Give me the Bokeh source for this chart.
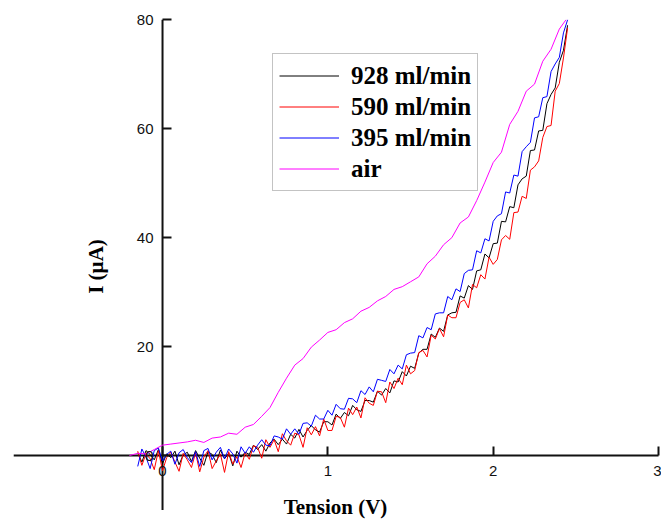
import math
from bokeh.plotting import figure
from bokeh.models import Legend, LegendItem, Label, FixedTicker
from bokeh.embed import file_html
from bokeh.resources import INLINE

# Shared voltage sweep for the three flow-rate series (V)
V = [-0.15, -0.125, -0.1, -0.075, -0.05, -0.025, 0.0, 0.025, 0.05, 0.075,
     0.1, 0.125, 0.15, 0.175, 0.2, 0.225, 0.25, 0.275, 0.3, 0.325,
     0.35, 0.375, 0.4, 0.425, 0.45, 0.475, 0.5, 0.525, 0.55, 0.575,
     0.6, 0.625, 0.65, 0.675, 0.7, 0.725, 0.75, 0.775, 0.8, 0.825,
     0.85, 0.875, 0.9, 0.925, 0.95, 0.975, 1.0, 1.025, 1.05, 1.075,
     1.1, 1.125, 1.15, 1.175, 1.2, 1.225, 1.25, 1.275, 1.3, 1.325,
     1.35, 1.375, 1.4, 1.425, 1.45, 1.475, 1.5, 1.525, 1.55, 1.575,
     1.6, 1.625, 1.65, 1.675, 1.7, 1.725, 1.75, 1.775, 1.8, 1.825,
     1.85, 1.875, 1.9, 1.925, 1.95, 1.975, 2.0, 2.025, 2.05, 2.075,
     2.1, 2.125, 2.15, 2.175, 2.2, 2.225, 2.25, 2.275, 2.3, 2.325,
     2.35, 2.375, 2.4, 2.425, 2.45]

I_928 = [0.5, -1.2, 0.9, 0.2, -0.8, 1.1, -1.5, 0.3, -0.4, 0.8,
         -1.7, 0.1, 0.6, -1.1, 0.9, -0.5, -1.8, 0.7, 0.2, -1.3,
         1.0, -0.6, 0.4, -1.9, 0.8, -0.3, 0.6,
         0.2, 1.9, 1.1, 2.0, 0.8, 2.3, 3.0, 2.0, 3.0, 2.1,
         3.9, 3.2, 4.8, 3.4, 4.6, 5.5, 4.7, 4.3, 6.2, 6.2,
         5.6, 7.6, 6.8, 7.9, 7.3, 9.2, 8.4, 8.1, 10.1, 10.1,
         9.8, 11.8, 11.1, 12.3, 11.5, 13.7, 13.5, 15.4, 14.6, 16.4,
         16.0, 18.8, 19.5, 19.5, 22.3, 21.7, 23.4, 22.8, 25.8, 26.2,
         26.3, 29.3, 28.9, 31.2, 30.5, 33.9, 34.1, 37.0, 36.3, 38.9,
         39.0, 43.0, 42.9, 45.7, 45.5, 49.7, 50.8, 51.3, 56.0, 56.1,
         59.6, 59.7, 64.6, 66.3, 67.5, 72.2, 74.4, 79.0]

I_590 = [0.8, -1.8, 0.3, -0.6, -2.6, 0.9, -2.8, -0.4, 0.6, -1.2,
         -2.9, 0.4, -0.8, -2.2, 0.5, -3.0, -0.3, 0.9, -2.4, -1.0,
         0.3, -3.1, 0.7, -1.6, -0.2, -2.2, 0.5,
         -0.7, 1.8, 1.5, -0.5, 2.9, 1.5, 2.9, 0.7, 4.0, 2.7,
         1.9, 4.1, 3.8, 1.5, 5.1, 3.8, 5.3, 3.6, 6.7, 4.6,
         4.6, 7.2, 7.0, 5.2, 8.7, 7.5, 8.9, 6.9, 10.6, 9.6,
         9.2, 11.8, 11.7, 9.7, 13.5, 12.3, 14.2, 13.0, 16.6, 15.0,
         15.6, 18.9, 19.3, 18.1, 22.1, 21.4, 23.3, 21.8, 25.8, 25.3,
         25.3, 28.1, 28.6, 27.1, 31.4, 30.8, 33.2, 32.4, 36.4, 35.1,
         36.0, 39.6, 40.4, 39.7, 44.6, 44.7, 47.6, 47.2, 52.4, 53.0,
         54.1, 58.4, 60.4, 60.6, 66.9, 68.3, 73.0, 78.5]

I_395 = [-2.0, 1.2, -0.3, -2.4, 0.9, 1.4, -1.0, 0.2, 0.8, -1.6,
         0.5, 1.1, -0.4, -1.3, 0.7, -2.0, 0.9, 1.3, -0.8, 0.6,
         1.5, -0.6, 1.2, 0.3, -1.4, 1.6, 0.4,
         1.6, 0.6, 1.9, 2.9, 1.9, 1.8, 3.6, 3.4, 3.0, 4.9,
         3.9, 4.9, 3.9, 5.9, 6.0, 5.4, 7.4, 6.7, 6.7, 8.3,
         7.4, 9.4, 8.6, 8.5, 10.5, 10.4, 9.7, 11.9, 11.2, 12.6,
         11.7, 14.0, 13.8, 13.6, 15.8, 15.0, 16.6, 15.9, 18.5, 18.8,
         18.9, 22.0, 21.6, 23.5, 23.1, 26.0, 26.2, 26.2, 29.2, 28.6,
         30.6, 30.1, 33.4, 34.0, 34.1, 37.6, 37.2, 39.8, 39.4, 43.0,
         44.0, 44.4, 48.4, 48.2, 51.5, 51.3, 55.8, 56.7, 57.5, 62.0,
         62.2, 65.7, 65.9, 70.5, 71.9, 73.1, 77.6, 80.0]

# Air series
AIR_V = [-0.2, -0.15, -0.1, -0.05, 0.0, 0.05, 0.1, 0.15, 0.2, 0.25,
         0.3, 0.35, 0.4, 0.45, 0.5, 0.55, 0.6, 0.65, 0.7, 0.75,
         0.8, 0.85, 0.9, 0.95, 1.0, 1.05, 1.1, 1.15, 1.2, 1.25,
         1.3, 1.35, 1.4, 1.45, 1.5, 1.55, 1.6, 1.65, 1.7, 1.75,
         1.8, 1.85, 1.9, 1.95, 2.0, 2.05, 2.1, 2.15, 2.2, 2.25,
         2.3, 2.35, 2.4, 2.44]
AIR_I = [0.0, 0.4, 0.3, 1.1, 1.9, 2.1, 2.3, 2.5, 2.8, 2.4,
         3.2, 3.4, 4.1, 3.9, 5.2, 5.7, 7.2, 8.8, 11.6, 14.2,
         16.6, 17.8, 19.9, 21.2, 22.6, 23.1, 24.4, 25.1, 26.5, 27.2,
         28.4, 29.2, 30.5, 31.0, 31.9, 32.8, 35.2, 36.6, 38.7, 40.0,
         42.7, 43.8, 46.8, 50.2, 53.8, 55.7, 60.8, 63.2, 66.9, 68.2,
         72.4, 74.6, 78.3, 80.0]

X_TICKS = [0, 1, 2, 3]
Y_TICKS = [0, 20, 40, 60, 80]
X_BOUNDS = (-0.9, 3)
Y_BOUNDS = (-10, 80)
SERIES = ["928 ml/min", "590 ml/min", "395 ml/min", "air"]
COLORS = ["#000000", "#ff0000", "#0000ff", "#ff00ff"]

p = figure(width=661, height=519, x_range=(-0.98, 3.018), y_range=(-11.75, 83.55),
           output_backend="svg", toolbar_location=None,
           min_border_left=0, min_border_right=0, min_border_top=0,
           min_border_bottom=0)
p.outline_line_color = None
p.xgrid.visible = False
p.ygrid.visible = False

# axis lines limited to the drawn extent of the original axes
p.segment(x0=[X_BOUNDS[0], 0], y0=[0, Y_BOUNDS[0]],
          x1=[X_BOUNDS[1], 0], y1=[0, Y_BOUNDS[1]],
          line_color="#111111", line_width=2)

for ax in (p.xaxis[0], p.yaxis[0]):
    ax.fixed_location = 0
    ax.axis_line_color = None
    ax.major_tick_line_width = 2
    ax.major_tick_line_color = "#111111"
    ax.major_tick_in = 9
    ax.major_tick_out = 0
    ax.minor_tick_in = 0
    ax.minor_tick_out = 0
    ax.major_label_text_font = "Liberation Sans"
    ax.major_label_text_font_size = "15px"
    ax.major_label_text_color = "#111111"
p.xaxis[0].ticker = FixedTicker(ticks=X_TICKS)
p.yaxis[0].ticker = FixedTicker(ticks=Y_TICKS)
p.xaxis[0].major_label_standoff = 10
p.yaxis[0].major_label_standoff = 9

r928 = p.line(V, I_928, line_color=COLORS[0], line_width=1)
r590 = p.line(V, I_590, line_color=COLORS[1], line_width=1)
r395 = p.line(V, I_395, line_color=COLORS[2], line_width=1)
rair = p.line(AIR_V, AIR_I, line_color=COLORS[3], line_width=1)

legend = Legend(items=[LegendItem(label=SERIES[i], renderers=[r])
                       for i, r in enumerate([r928, r590, r395, rair])],
                location=(272, 328), padding=6, spacing=0,
                label_height=31, glyph_height=31, glyph_width=60,
                label_standoff=12,
                label_text_font="Liberation Serif", label_text_font_style="bold",
                label_text_font_size="25px", label_text_color="#000000",
                border_line_color="#888888", border_line_width=1.5,
                background_fill_alpha=1.0, margin=0)
p.add_layout(legend)

p.add_layout(Label(x=335, y=13, x_units="screen", y_units="screen",
                   text="Tension (V)", text_align="center", text_baseline="middle",
                   text_font="Liberation Serif", text_font_style="bold",
                   text_font_size="21px", text_color="#000000"))
p.add_layout(Label(x=95, y=253, x_units="screen", y_units="screen",
                   text="I (\u00b5A)", angle=math.pi / 2,
                   text_align="center", text_baseline="middle",
                   text_font="Liberation Serif", text_font_style="bold",
                   text_font_size="21px", text_color="#000000"))

open("out.html", "w").write(file_html(p, INLINE))
